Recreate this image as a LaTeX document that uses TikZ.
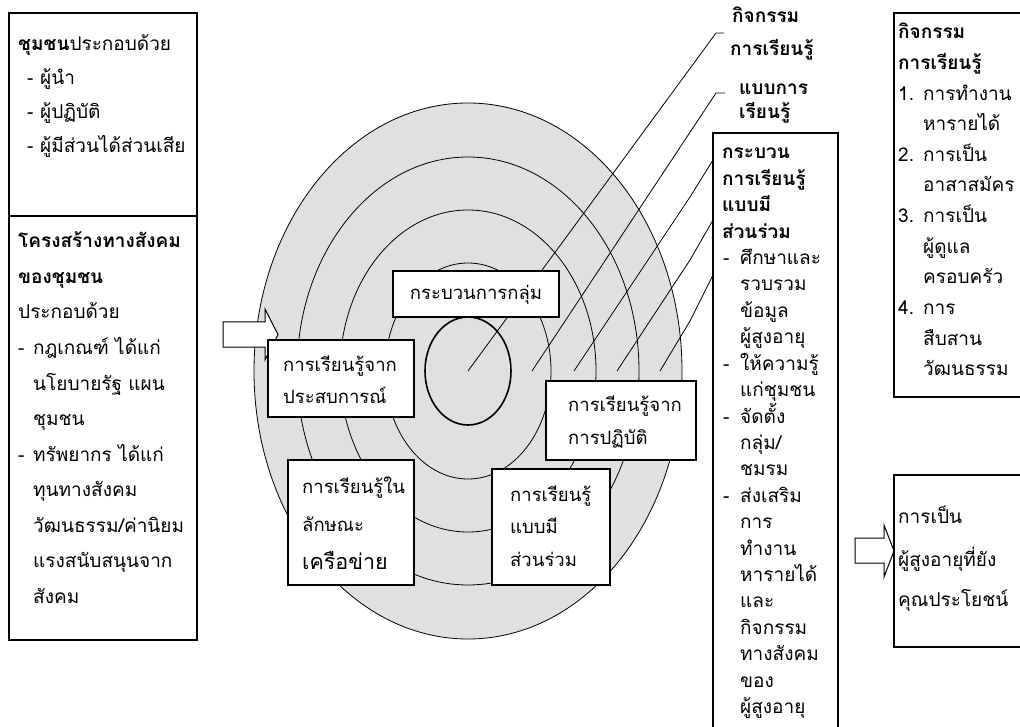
\documentclass[tikz,border=0pt]{standalone}
\usepackage{fontspec}
\setmainfont[Script=Thai]{Loma}
\definecolor{ringgray}{HTML}{E0E0E0}
\newcommand{\dashitem}[1]{\makebox[#1][l]{-}}
\begin{document}
\begin{tikzpicture}[x=1pt,y=-1pt,
  box/.style={draw, line width=1.3pt, fill=white, inner sep=0pt, outer sep=0pt, anchor=north west},
  lbox/.style={draw, line width=1.1pt, fill=white, inner sep=0pt, outer sep=0pt, anchor=north west},
  txt/.style={anchor=base west, inner sep=0pt, font=\fontsize{19}{22}\selectfont},
  btxt/.style={txt, font=\fontsize{19}{22}\selectfont\bfseries},
  ctxt/.style={anchor=base west, inner sep=0pt, font=\fontsize{18.5}{22}\selectfont},
  ring/.style={draw, line width=0.8pt},
  lead/.style={draw, line width=0.8pt},
  blockarrow/.style={draw, line width=1pt, fill=white, line join=miter}]
\useasboundingbox (0,0) rectangle (1020,727);

% ---- concentric rings
\coordinate (ctr) at (468,371);
\fill[ringgray] (ctr) ellipse [x radius=214pt, y radius=268pt];
\draw[ring] (ctr) ellipse [x radius=214pt, y radius=268pt];
\draw[ring] (ctr) ellipse [x radius=171pt, y radius=214pt];
\draw[ring] (ctr) ellipse [x radius=128pt, y radius=161pt];
\draw[ring] (ctr) ellipse [x radius=83pt, y radius=108pt];
\draw[ring, line width=1.6pt] (ctr) ellipse [x radius=43pt, y radius=54pt];

% ---- leader lines
\coordinate (s1) at (468,371);
\coordinate (s2) at (532,371);
\coordinate (s3) at (574,371);
\coordinate (s4) at (617,371);
\coordinate (s5) at (660,371);
\coordinate (e1) at (716,33);  \coordinate (t1) at (724,33);
\coordinate (e2) at (716,93);  \coordinate (t2) at (725,93);
\coordinate (b3) at (690,197); \coordinate (e3) at (713,160);
\coordinate (b4) at (690,260); \coordinate (e4) at (713,220);
\coordinate (b5) at (690,321); \coordinate (e5) at (713,275);
\draw[lead] (s1) -- (e1) -- (t1);
\draw[lead] (s2) -- (e2) -- (t2);
\draw[lead] (s3) -- (b3) -- (e3);
\draw[lead] (s4) -- (b4) -- (e4);
\draw[lead] (s5) -- (b5) -- (e5);

% ---- left block arrow
\draw[blockarrow] (223,322) -- (265,322) -- (265,309) -- (278,334.5) -- (265,360) -- (265,347) -- (223,347) -- cycle;

% ---- boxes on the rings
\node[box, minimum width=166pt, minimum height=46pt] (bgroup) at (393,271) {};
\node[ctxt, anchor=base] (tgroup) at (476,300) {กระบวนการกลุ่ม};

\node[box, minimum width=146pt, minimum height=77pt] (bexp) at (268,340) {};
\node[ctxt] (texp1) at (283,371) {การเรียนรู้จาก};
\node[ctxt] (texp2) at (283,403) {ประสบการณ์};

\node[box, minimum width=150pt, minimum height=79pt] (bprac) at (546,381) {};
\node[ctxt] (tprac1) at (568,411) {การเรียนรู้จาก};
\node[ctxt] (tprac2) at (568,444) {การปฏิบัติ};

\node[box, minimum width=126pt, minimum height=125pt] (bnet) at (288,460) {};
\node[ctxt] (tnet1) at (302,493) {การเรียนรู้ใน};
\node[ctxt] (tnet2) at (302,531) {ลักษณะ};
\node[ctxt, font=\fontsize{21.5}{25}\selectfont] (tnet3) at (302,569) {เครือข่าย};

\node[box, minimum width=118pt, minimum height=116pt] (bpart) at (492,469) {};
\node[ctxt] (tpart1) at (510,501) {การเรียนรู้};
\node[ctxt] (tpart2) at (510,533) {แบบมี};
\node[ctxt] (tpart3) at (510,566) {ส่วนร่วม};

% ---- top labels of the leader lines
\node[btxt] (lab1a) at (732,23) {กิจกรรม};
\node[btxt] (lab1b) at (730,56) {การเรียนรู้};
\node[btxt] (lab2a) at (739,95) {แบบการ};
\node[btxt] (lab2b) at (739,119) {เรียนรู้};

% ---- left column
\node[lbox, minimum width=188pt, minimum height=203pt] (bcomm) at (9,13) {};
\node[lbox, minimum width=188pt, minimum height=424pt] (bstruct) at (9,216) {};
\node[txt] (c0) at (18,51) {\textbf{ชุมชน}ประกอบด้วย};
\node[txt] (c1) at (27,85) {\dashitem{13pt}ผู้นำ};
\node[txt] (c2) at (27,119) {\dashitem{13pt}ผู้ปฏิบัติ};
\node[txt] (c3) at (27,153) {\dashitem{13pt}ผู้มีส่วนได้ส่วนเสีย};
\foreach \xx/\tt [count=\i from 0] in {
  18/{\bfseries โครงสร้างทางสังคม},
  18/{\bfseries ของชุมชน},
  18/{ประกอบด้วย},
  18/{\dashitem{15pt}กฎเกณฑ์ ได้แก่},
  33/{นโยบายรัฐ แผน},
  33/{ชุมชน},
  18/{\dashitem{15pt}ทรัพยากร ได้แก่},
  33/{ทุนทางสังคม},
  33/{วัฒนธรรม/ค่านิยม},
  33/{แรงสนับสนุนจาก},
  33/{สังคม}}
  \node[txt] (st\i) at (\xx,{248+35.5*\i}) {\tt};

% ---- middle column box
\node[box, minimum width=125pt, minimum height=600pt] (bmid) at (713,133) {};
\foreach \xx/\tt [count=\i from 0] in {
  722/{\bfseries กระบวน},
  722/{\bfseries การเรียนรู้},
  722/{\bfseries แบบมี},
  722/{\bfseries ส่วนร่วม},
  723/{\dashitem{17pt}ศึกษาและ},
  740/{รวบรวม},
  740/{ข้อมูล},
  740/{ผู้สูงอายุ},
  723/{\dashitem{17pt}ให้ความรู้},
  740/{แก่ชุมชน},
  723/{\dashitem{17pt}จัดตั้ง},
  740/{กลุ่ม/},
  740/{ชมรม},
  723/{\dashitem{17pt}ส่งเสริม},
  740/{การ},
  740/{ทำงาน},
  740/{หารายได้},
  740/{และ},
  740/{กิจกรรม},
  740/{ทางสังคม},
  740/{ของ},
  740/{ผู้สูงอายุ}}
  \node[txt] (md\i) at (\xx,{159+26.4*\i}) {\tt};

% ---- right boxes
\node[box, minimum width=132pt, minimum height=384pt] (bact) at (894,13) {};
\foreach \xx/\tt [count=\i from 0] in {
  898/{\bfseries กิจกรรม},
  898/{\bfseries การเรียนรู้},
  898/{\makebox[25pt][l]{1.}การทำงาน},
  923/{หารายได้},
  898/{\makebox[25pt][l]{2.}การเป็น},
  923/{อาสาสมัคร},
  898/{\makebox[25pt][l]{3.}การเป็น},
  923/{ผู้ดูแล},
  923/{ครอบครัว},
  898/{\makebox[25pt][l]{4.}การ},
  923/{สืบสาน},
  923/{วัฒนธรรม}}
  \node[txt] (ac\i) at (\xx,{39+30.6*\i}) {\tt};

\draw[blockarrow] (855,538) -- (884,538) -- (884,525) -- (894,551) -- (884,577) -- (884,563) -- (855,563) -- cycle;
\node[box, minimum width=132pt, minimum height=172pt] (bres) at (894,475) {};
\node[txt] (rs0) at (898,523) {การเป็น};
\node[txt] (rs1) at (898,566) {ผู้สูงอายุที่ยัง};
\node[txt] (rs2) at (898,606) {คุณประโยชน์};
\end{tikzpicture}
\end{document}
